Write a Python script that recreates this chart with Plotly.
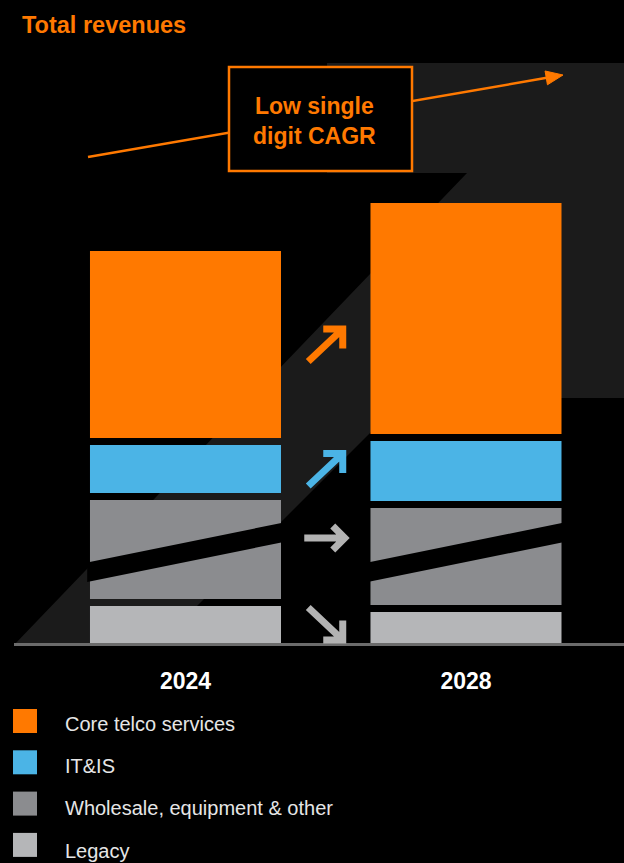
import math
import plotly.graph_objects as go

# ---- data -------------------------------------------------------------
years = ["2024", "2028"]
segments = ["Legacy", "Wholesale, equipment & other", "IT&IS", "Core telco services"]
legacy = [3.7, 3.1]
wholesale = [9.9, 9.7]
it_is = [4.8, 6.0]
core_telco = [18.7, 23.1]
trend = ["down", "flat", "up", "up"]          # direction of each segment 2024 -> 2028
legend_order = ["Core telco services", "IT&IS", "Wholesale, equipment & other", "Legacy"]
title_text = "Total revenues"
cagr_text = "Low single<br>digit CAGR"

# ---- style ------------------------------------------------------------
ORANGE = "#ff7900"
BLUE = "#4bb4e6"
GREY = "#8b8c8f"
LIGHT = "#b5b6b8"
BAND = "#1b1b1b"
FONT = "Liberation Sans, Arial, Helvetica, sans-serif"
colors = {"Legacy": LIGHT, "Wholesale, equipment & other": GREY,
          "IT&IS": BLUE, "Core telco services": ORANGE}
arrow_colors = {"Legacy": "#b3b3b3", "Wholesale, equipment & other": "#b3b3b3",
                "IT&IS": BLUE, "Core telco services": ORANGE}
values = {"Legacy": legacy, "Wholesale, equipment & other": wholesale,
          "IT&IS": it_is, "Core telco services": core_telco}

W, H = 624, 863
PLOT_H = 647                       # plot area height in px (top margin 0)
XR = [-0.6613, 1.5633]
YR = [-0.4, 64.3]
BAR_W = 0.681
GAP = 0.7                          # black gap between stacked segments


def px_x(p):
    return XR[0] + p / W * (XR[1] - XR[0])


def px_y(p):
    return YR[1] - p / PLOT_H * (YR[1] - YR[0])


def dx(p):
    return p / W * (XR[1] - XR[0])


def dy(p):
    return -p / PLOT_H * (YR[1] - YR[0])


def poly(points):
    return "M " + " L ".join(f"{x:.4f},{y:.4f}" for x, y in points) + " Z"


fig = go.Figure()

# trend line (runs behind the CAGR box); head drawn as a filled triangle
tail, tip = (88, 157), (563, 75)
ux, uy = tip[0] - tail[0], tip[1] - tail[1]
n = math.hypot(ux, uy)
ux, uy = ux / n, uy / n
head_len, head_half = 17, 7
base_c = (tip[0] - ux * head_len, tip[1] - uy * head_len)
head_px = [tip,
           (base_c[0] - uy * head_half, base_c[1] + ux * head_half),
           (base_c[0] + uy * head_half, base_c[1] - ux * head_half)]

fig.add_trace(go.Scatter(
    x=[px_x(tail[0]), px_x(base_c[0] + ux * 2)],
    y=[px_y(tail[1]), px_y(base_c[1] + uy * 2)],
    mode="lines", line=dict(color=ORANGE, width=2.5),
    hoverinfo="skip", showlegend=False))

# stacked bars with gaps
xs = list(range(len(years)))
bases = [0.0] * len(years)
seg_bounds = {}
for seg in segments:
    vals = values[seg]
    fig.add_trace(go.Bar(
        x=xs, y=vals, base=list(bases), width=BAR_W, name=seg,
        marker=dict(color=colors[seg], line=dict(width=0)),
        showlegend=False, hoverinfo="skip"))
    seg_bounds[seg] = [(b, b + v) for b, v in zip(bases, vals)]
    bases = [b + v + GAP for b, v in zip(bases, vals)]

shapes = []

# diagonal background band
band_px = [(14, 645), (467, 173), (327, 173), (327, 63), (630, 63),
           (630, 398), (405, 398), (158, 645)]
shapes.append(dict(type="path", xref="x", yref="y", layer="below",
                   path=poly([(px_x(a), px_y(b)) for a, b in band_px]),
                   fillcolor=BAND, line=dict(width=0)))

# arrow head of the trend line
shapes.append(dict(type="path", xref="x", yref="y", layer="above",
                   path=poly([(px_x(a), px_y(b)) for a, b in head_px]),
                   fillcolor=ORANGE, line=dict(color=ORANGE, width=1)))

# axis-break stripe through the wholesale segments
for i in xs:
    xl, xr = i - BAR_W / 2 - 0.01, i + BAR_W / 2 + 0.01
    up_l, up_r, th = 8.05, 12.05, 1.95
    shapes.append(dict(type="path", xref="x", yref="y", layer="above",
                       path=poly([(xl, up_l - th), (xr, up_r - th), (xr, up_r), (xl, up_l)]),
                       fillcolor="#000000", line=dict(width=0)))

# baseline
shapes.append(dict(type="line", xref="x", yref="y", layer="above",
                   x0=px_x(14), x1=XR[1], y0=px_y(644.5), y1=px_y(644.5),
                   line=dict(color="#6b6b6b", width=3)))

# CAGR box
shapes.append(dict(type="rect", xref="x", yref="y", layer="above",
                   x0=px_x(229), x1=px_x(412), y0=px_y(171), y1=px_y(67),
                   fillcolor="#000000", line=dict(color=ORANGE, width=2.5)))

# trend arrows between the bars
nudge = {"Legacy": 0.0, "Wholesale, equipment & other": 1.15, "IT&IS": 0.0,
         "Core telco services": 0.0}
glyphs = {
    "up": [[(-17.5, 17), (17, -15.5)], [(-2.5, -15.5), (17, -15.5), (17, 4)]],
    "down": [[(-17.5, -17), (17, 15.5)], [(-2.5, 15.5), (17, 15.5), (17, -4)]],
    "flat": [[(-21.5, 0), (19, 0)], [(7, -12), (19, 0), (7, 12)]],
}
for seg, direction in zip(segments, trend):
    lo, hi = seg_bounds[seg][0]
    cx, cy = 0.5, (lo + hi) / 2 + nudge[seg]
    parts = []
    for stroke in glyphs[direction]:
        parts.append("M " + " L ".join(f"{cx + dx(a):.4f},{cy + dy(b):.4f}" for a, b in stroke))
    shapes.append(dict(type="path", xref="x", yref="y", layer="above",
                       path=" ".join(parts),
                       line=dict(color=arrow_colors[seg], width=7)))

# legend
annotations = []
text_centres = [724, 766, 808, 851]
for k, seg in enumerate(legend_order):
    top = 709 + 41.3 * k
    shapes.append(dict(type="rect", xref="paper", yref="paper",
                       x0=13 / W, x1=37 / W,
                       y0=(PLOT_H - top - 24) / PLOT_H, y1=(PLOT_H - top) / PLOT_H,
                       fillcolor=colors[seg], line=dict(width=0)))
    annotations.append(dict(xref="paper", yref="paper", x=63 / W,
                            y=(PLOT_H - text_centres[k]) / PLOT_H,
                            xanchor="left", yanchor="middle", showarrow=False,
                            text=seg, font=dict(family=FONT, size=20, color="#e6e6e6")))

annotations.append(dict(xref="x", yref="y", x=px_x(314.5), y=px_y(121),
                        text=cagr_text, showarrow=False, align="center",
                        xanchor="center", yanchor="middle",
                        font=dict(family=FONT, size=23, color=ORANGE, weight="bold")))

fig.update_layout(
    width=W, height=H,
    margin=dict(l=0, r=0, t=0, b=H - PLOT_H, pad=0),
    paper_bgcolor="#000000", plot_bgcolor="#000000",
    barmode="overlay", showlegend=False,
    title=dict(text=title_text, x=22 / W, xanchor="left", xref="container",
               y=1 - 25 / H, yanchor="middle", yref="container",
               font=dict(family=FONT, size=23.5, color=ORANGE, weight="bold")),
    xaxis=dict(range=XR, tickvals=xs, ticktext=years, showgrid=False,
               zeroline=False, showline=False, ticks="", ticklabelstandoff=18,
               tickfont=dict(family=FONT, size=23, color="#ffffff", weight="bold"),
               fixedrange=True),
    yaxis=dict(range=YR, visible=False, showgrid=False, zeroline=False,
               fixedrange=True),
    shapes=shapes, annotations=annotations,
)

fig.write_html("out.html")
